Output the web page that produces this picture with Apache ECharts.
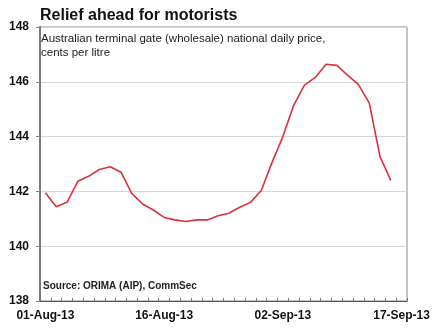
<!DOCTYPE html>
<html>
<head>
<meta charset="utf-8">
<script src="https://cdn.jsdelivr.net/npm/echarts@6/dist/echarts.min.js"></script>
<style>
html,body{margin:0;padding:0;background:#fff;}
#c{width:436px;height:331px;}
</style>
</head>
<body>
<div id="c"></div>
<script>
var titleText = 'Relief ahead for motorists';
var subtitleText = 'Australian terminal gate (wholesale) national daily price,\ncents per litre';
var sourceText = 'Source: ORIMA (AIP), CommSec';

var dates = [
  '01-Aug-13','02-Aug-13','05-Aug-13','06-Aug-13','07-Aug-13','08-Aug-13','09-Aug-13',
  '12-Aug-13','13-Aug-13','14-Aug-13','15-Aug-13','16-Aug-13',
  '19-Aug-13','20-Aug-13','21-Aug-13','22-Aug-13','23-Aug-13',
  '26-Aug-13','27-Aug-13','28-Aug-13','29-Aug-13','30-Aug-13',
  '02-Sep-13','03-Sep-13','04-Sep-13','05-Sep-13','06-Sep-13',
  '09-Sep-13','10-Sep-13','11-Sep-13','12-Sep-13','13-Sep-13',
  '16-Sep-13','17-Sep-13'
];

var prices = [
  141.95, 141.44, 141.6, 142.37, 142.55, 142.8, 142.9,
  142.7, 141.93, 141.54, 141.32, 141.05,
  140.96, 140.9, 140.96, 140.96, 141.11,
  141.2, 141.42, 141.6, 142.03, 143.06,
  144.0, 145.14, 145.88, 146.16, 146.64,
  146.6, 146.24, 145.9, 145.23, 143.27,
  142.4, null
];

var shownDates = ['01-Aug-13','16-Aug-13','02-Sep-13','17-Sep-13'];

var chart = echarts.init(document.getElementById('c'), null, {renderer:'canvas'});
chart.setOption({
  animation: false,
  backgroundColor: '#fff',
  textStyle: {fontFamily: 'Liberation Sans, Arial, sans-serif'},
  title: [
    {text: titleText, left: 35, top: 3,
     textStyle: {fontSize: 16, fontWeight: 'bold', color: '#111', fontFamily: 'Liberation Sans, Arial, sans-serif'}},
    {text: subtitleText, left: 36, top: 27,
     textStyle: {fontSize: 11.5, fontWeight: 'normal', color: '#222', lineHeight: 14, fontFamily: 'Liberation Sans, Arial, sans-serif'}}
  ],
  graphic: [
    {type: 'text', left: 43, top: 281,
     style: {text: sourceText, fontSize: 10, fontWeight: 'bold', fill: '#222', fontFamily: 'Liberation Sans, Arial, sans-serif'}}
  ],
  grid: {left: 40, right: 29, top: 27, bottom: 30, show: true, borderColor: '#888', borderWidth: 1},
  xAxis: {
    type: 'category',
    data: dates,
    boundaryGap: true,
    axisLine: {lineStyle: {color: '#555', width: 1}},
    axisTick: {show: true, inside: true, length: 3, interval: 0, lineStyle: {color: '#777'}},
    axisLabel: {
      interval: 0,
      formatter: function (v) { return shownDates.indexOf(v) >= 0 ? v : ''; },
      fontSize: 12, fontWeight: 'bold', color: '#111', margin: 9,
      fontFamily: 'Liberation Sans, Arial, sans-serif'
    },
    splitLine: {show: false}
  },
  yAxis: {
    type: 'value',
    min: 138, max: 148, interval: 2,
    axisLine: {show: true, lineStyle: {color: '#777', width: 2}},
    axisTick: {show: true, length: 4, lineStyle: {color: '#888'}},
    axisLabel: {fontSize: 12, fontWeight: 'bold', color: '#111', margin: 11,
      fontFamily: 'Liberation Sans, Arial, sans-serif'},
    splitLine: {show: true, lineStyle: {color: '#d6d6d6', width: 1}}
  },
  series: [{
    type: 'line',
    data: prices,
    symbol: 'none',
    connectNulls: false,
    lineStyle: {color: '#d9323c', width: 1.6}
  }]
});
</script>
</body>
</html>
